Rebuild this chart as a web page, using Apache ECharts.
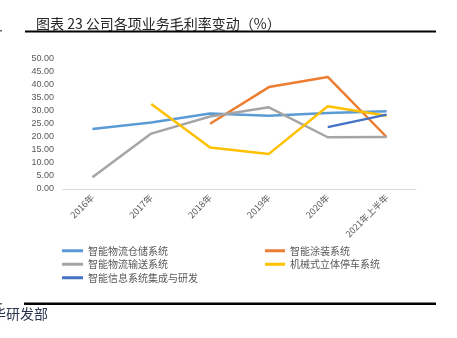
<!DOCTYPE html>
<html>
<head>
<meta charset="utf-8">
<script src="https://cdn.jsdelivr.net/npm/echarts@6/dist/echarts.min.js"></script>
<style>
  html, body { margin: 0; padding: 0; background: #fff; }
  #chart { width: 457px; height: 338px; }
</style>
</head>
<body>
<div id="chart"></div>
<script>
// Periods on the category axis
const categories = ['2016年', '2017年', '2018年', '2019年', '2020年', '2021年上半年'];

// Gross margin by business line (%), null where a line has no figure
const warehousing = [23.1, 25.6, 29.0, 28.2, 29.2, 29.9];
const painting = [null, null, 25.1, 39.2, 43.1, 20.0];
const conveying = [4.5, 21.3, 27.9, 31.4, 19.9, 20.0];
const parking = [null, 32.7, 16.0, 13.5, 31.8, 28.2];
const infoSystems = [null, null, null, null, 23.8, 28.6];

const seriesNames = ['智能物流仓储系统', '智能涂装系统', '智能物流输送系统', '机械式立体停车系统', '智能信息系统集成与研发'];
const seriesData = [warehousing, painting, conveying, parking, infoSystems];
const seriesColors = ['#5B9BD5', '#ED7D31', '#A5A5A5', '#FFC000', '#4472C4'];

const chart = echarts.init(document.getElementById('chart'), null, { renderer: 'canvas' });

const legendText = { color: '#595959', fontSize: 10, fontFamily: '"Noto Sans CJK SC", sans-serif', lineHeight: 13.5 };

chart.setOption({
  animation: false,
  backgroundColor: '#ffffff',
  title: {
    text: '图表 23 公司各项业务毛利率变动（%）',
    left: 31,
    top: 12,
    textStyle: { color: '#262626', fontSize: 14, fontWeight: 'normal', fontFamily: '"Noto Sans CJK SC", sans-serif' }
  },
  grid: { left: 63, right: 41, top: 59, bottom: 149 },
  legend: [
    {
      data: [seriesNames[0], seriesNames[2], seriesNames[4]],
      orient: 'vertical', left: 57, top: 239,
      icon: 'rect', itemWidth: 21, itemHeight: 3, itemGap: 0,
      textStyle: legendText
    },
    {
      data: [seriesNames[1], seriesNames[3]],
      orient: 'vertical', left: 260, top: 239,
      icon: 'rect', itemWidth: 20, itemHeight: 3, itemGap: 0,
      textStyle: legendText
    }
  ],
  xAxis: {
    type: 'category',
    data: categories,
    boundaryGap: true,
    axisLine: { lineStyle: { color: '#d9d9d9', width: 1 } },
    axisTick: { show: false },
    axisLabel: { rotate: 45, color: '#595959', fontSize: 9, margin: 7, interval: 0, fontFamily: '"Noto Sans CJK SC", sans-serif' }
  },
  yAxis: {
    type: 'value',
    min: 0, max: 50, interval: 5,
    axisLine: { show: false },
    axisTick: { show: false },
    splitLine: { show: false },
    axisLabel: { color: '#595959', fontSize: 9, margin: 9, fontFamily: '"Liberation Sans", Arial, sans-serif', formatter: v => v.toFixed(2) }
  },
  series: seriesNames.map((name, i) => ({
    name: name,
    type: 'line',
    data: seriesData[i],
    symbol: 'none',
    connectNulls: false,
    lineStyle: { color: seriesColors[i], width: 2.5 },
    itemStyle: { color: seriesColors[i] }
  })),
  graphic: [
    { type: 'rect', shape: { x: 25, y: 30.5, width: 411, height: 2 }, style: { fill: '#000' } },
    { type: 'rect', shape: { x: 24, y: 302.5, width: 412, height: 2.5 }, style: { fill: '#000' } },
    { type: 'rect', shape: { x: 0, y: 30, width: 2, height: 1.5 }, style: { fill: '#666' } },
    { type: 'rect', shape: { x: 0, y: 303, width: 2, height: 1.5 }, style: { fill: '#666' } },
    {
      type: 'text', left: -8, top: 307,
      style: { text: '华研发部', fill: '#2b3750', fontSize: 14, fontFamily: '"Noto Sans CJK SC", serif' }
    }
  ]
});
</script>
</body>
</html>
